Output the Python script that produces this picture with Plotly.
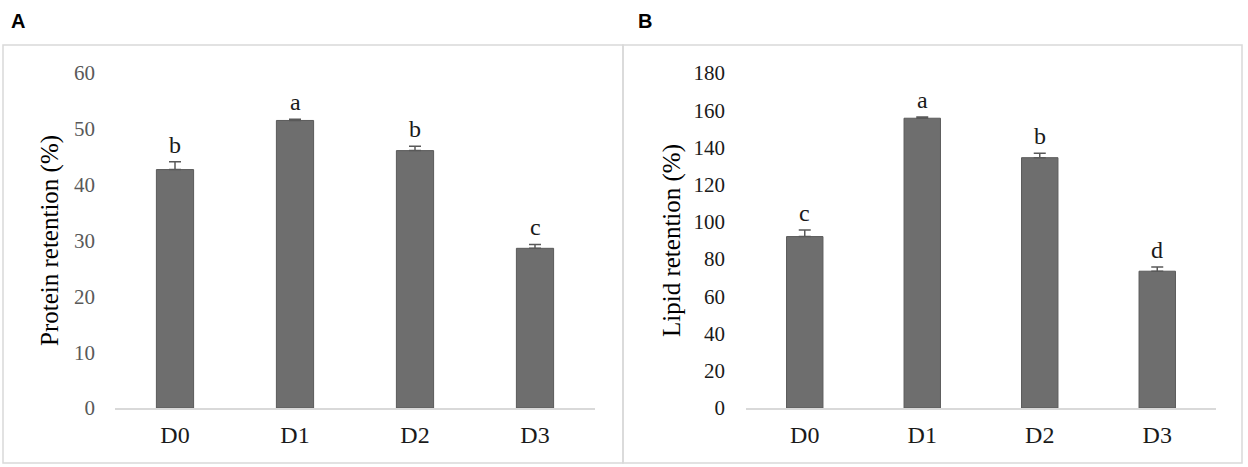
import plotly.graph_objects as go

# data
categories = ["D0", "D1", "D2", "D3"]
protein_retention = [42.7, 51.5, 46.1, 28.6]
protein_err = [1.4, 0.2, 0.8, 0.7]
protein_letters = ["b", "a", "b", "c"]
lipid_retention = [92.1, 155.7, 134.5, 73.5]
lipid_err = [3.5, 0.6, 2.4, 2.3]
lipid_letters = ["c", "a", "b", "d"]

W, H = 1248, 467
SERIF = "Liberation Serif, Times New Roman, serif"
BAR = "#6e6e6e"
GRID = "#d9d9d9"


def px_x(v):
    return v / W


def px_y(v):
    return (H - v) / H


fig = go.Figure()

panels = [
    ("x", "y", protein_retention, protein_err, protein_letters),
    ("x2", "y2", lipid_retention, lipid_err, lipid_letters),
]
for xa, ya, vals, errs, letters in panels:
    fig.add_trace(go.Bar(
        x=categories, y=vals, xaxis=xa, yaxis=ya,
        width=0.31,
        marker=dict(color=BAR, line=dict(color="#5a5a5a", width=1)),
        error_y=dict(type="data", symmetric=False, array=errs,
                     arrayminus=[0] * len(errs),
                     color="#595959", thickness=1.5, width=6),
        showlegend=False, hoverinfo="skip",
    ))
    for c, v, e, t in zip(categories, vals, errs, letters):
        fig.add_annotation(
            x=c, y=v + e, xref=xa, yref=ya, text=t, showarrow=False,
            yanchor="bottom", yshift=2,
            font=dict(family=SERIF, size=24, color="#1a1a1a"),
        )

xcommon = dict(type="category", showgrid=False, showline=True,
               linecolor=GRID, linewidth=1.5, ticks="",
               tickfont=dict(family=SERIF, size=24, color="#1a1a1a"),
               ticklabelstandoff=4, fixedrange=True, automargin=False)
ycommon = dict(showgrid=False, zeroline=False, showline=False, ticks="",
               fixedrange=True, automargin=False)

fig.update_layout(
    width=W, height=H, autosize=False,
    margin=dict(l=0, r=0, t=0, b=0, pad=0, autoexpand=False),
    paper_bgcolor="white", plot_bgcolor="white",
    showlegend=False,
    bargap=0.69,
    xaxis=dict(domain=[px_x(115), px_x(595)], anchor="y", **xcommon),
    xaxis2=dict(domain=[px_x(746), px_x(1216)], anchor="y2", **xcommon),
    yaxis=dict(domain=[px_y(408), px_y(73)], anchor="x", range=[0, 60],
               dtick=10, ticklabelstandoff=19,
               tickfont=dict(family=SERIF, size=21, color="#595959"),
               **ycommon),
    yaxis2=dict(domain=[px_y(408), px_y(73)], anchor="x2", range=[0, 180],
                dtick=20, ticklabelstandoff=20,
                tickfont=dict(family=SERIF, size=21, color="#1a1a1a"),
                **ycommon),
)

# panel frames
for x0, x1 in [(3, 623), (623, 1242)]:
    fig.add_shape(type="rect", xref="paper", yref="paper",
                  x0=px_x(x0), x1=px_x(x1), y0=px_y(463), y1=px_y(45),
                  line=dict(color=GRID, width=1.5), fillcolor="rgba(0,0,0,0)",
                  layer="below")

# axis titles
for xc, txt in [(50, "Protein retention (%)"), (672, "Lipid retention (%)")]:
    fig.add_annotation(x=px_x(xc), y=px_y(241), xref="paper", yref="paper",
                       text=txt, textangle=-90, showarrow=False,
                       xanchor="center", yanchor="middle",
                       font=dict(family=SERIF, size=25, color="black"))

# panel letters
for xl, t in [(9, "A"), (636, "B")]:
    fig.add_annotation(x=px_x(xl), y=px_y(21), xref="paper", yref="paper",
                       text="<b>%s</b>" % t, showarrow=False,
                       xanchor="left", yanchor="middle",
                       font=dict(family="Liberation Sans, Arial, sans-serif",
                                 size=20, color="black"))

# drop the default 8px body margin so the figure sits at the page corner
fig.write_html("out.html", config={"displayModeBar": False},
               post_script="document.body.style.margin='0px';")
